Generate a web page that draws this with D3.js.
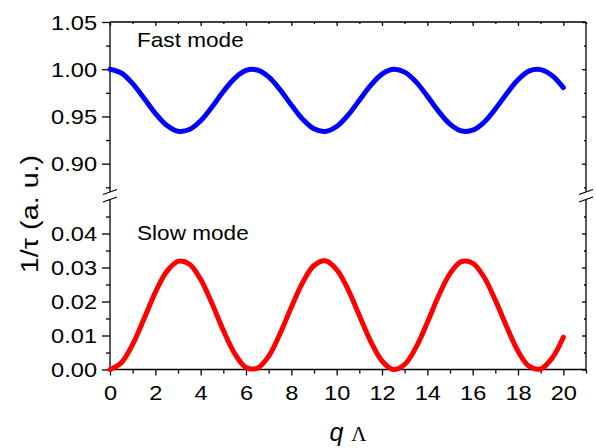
<!DOCTYPE html>
<html>
<head>
<meta charset="utf-8">
<script src="https://cdn.jsdelivr.net/npm/d3@7"></script>
<style>
  body { margin: 0; background: #fff; }
  svg { font-family: "Liberation Sans", Arial, sans-serif; }
  .axis path, .axis line { stroke: #000; stroke-width: 1.3; }
  .axis text { font-size: 20px; fill: #000; }
</style>
</head>
<body>
<div id="chart"></div>
<script>
// q*Lambda sample points
var qLambda = [0, 0.5, 1, 1.5, 2, 2.5, 3, 3.5, 4, 4.5, 5, 5.5, 6, 6.5, 7, 7.5, 8, 8.5, 9, 9.5,
  10, 10.5, 11, 11.5, 12, 12.5, 13, 13.5, 14, 14.5, 15, 15.5, 16, 16.5, 17, 17.5, 18, 18.5, 19, 19.5, 20];

// fast mode 1/tau
var fastMode = [1.0000, 0.9960, 0.9848, 0.9693, 0.9533, 0.9406, 0.9343, 0.9361, 0.9454, 0.9600,
  0.9764, 0.9904, 0.9987, 0.9992, 0.9919, 0.9784, 0.9622, 0.9471, 0.9369, 0.9341,
  0.9393, 0.9513, 0.9671, 0.9829, 0.9948, 0.9999, 0.9969, 0.9866, 0.9715, 0.9553,
  0.9419, 0.9347, 0.9354, 0.9438, 0.9579, 0.9741, 0.9888, 0.9982, 0.9996, 0.9933, 0.9805];

// slow mode 1/tau
var slowMode = [0.0000, 0.0020, 0.0074, 0.0149, 0.0227, 0.0288, 0.0318, 0.0310, 0.0265, 0.0194,
  0.0115, 0.0047, 0.0006, 0.0004, 0.0039, 0.0105, 0.0183, 0.0256, 0.0306, 0.0320,
  0.0294, 0.0236, 0.0159, 0.0083, 0.0025, 0.0000, 0.0015, 0.0065, 0.0138, 0.0217,
  0.0282, 0.0317, 0.0313, 0.0272, 0.0204, 0.0126, 0.0054, 0.0009, 0.0002, 0.0033, 0.0095];

var xMajor = [0, 2, 4, 6, 8, 10, 12, 14, 16, 18, 20];
var xMinor = [1, 3, 5, 7, 9, 11, 13, 15, 17, 19, 21];
var topMajor = [0.90, 0.95, 1.00, 1.05];
var topMinor = [0.875, 0.925, 0.975, 1.025];
var botMajor = [0.00, 0.01, 0.02, 0.03, 0.04];
var botMinor = [0.005, 0.015, 0.025, 0.035, 0.045];

var svgWidth = 596, svgHeight = 448;
var left = 110, right = 586;
var topY0 = 22, topY1 = 192;
var botY0 = 199.5, botY1 = 369.5;
var textStretch = 1.18;

var svg = d3.select("#chart").append("svg")
  .attr("width", svgWidth)
  .attr("height", svgHeight);

var x = d3.scaleLinear().domain([0, 21]).range([left, right]);
var yTop = d3.scaleLinear().domain([0.87, 1.05]).range([topY1, topY0]);
var yBot = d3.scaleLinear().domain([0, 0.05]).range([botY1, botY0]);

// stretch tick labels horizontally like the original
function stretchTicks(g, k) {
  g.selectAll("text").each(function() {
    var t = d3.select(this);
    var tx = +t.attr("x") || 0;
    t.attr("x", tx / k).attr("transform", `scale(${k},1)`);
  });
}

function drawAxis(axisFn, scale, major, minor, fmt, tr, labels, majorLen, minorLen) {
  var gMaj = svg.append("g").attr("class", "axis").attr("transform", tr)
    .call(axisFn(scale).tickValues(major).tickSize(majorLen).tickSizeOuter(0)
      .tickFormat(labels ? fmt : ""));
  gMaj.select(".domain").remove();
  var gMin = svg.append("g").attr("class", "axis").attr("transform", tr)
    .call(axisFn(scale).tickValues(minor).tickSize(minorLen).tickFormat(""));
  gMin.select(".domain").remove();
  return gMaj;
}

var f2 = d3.format(".2f");

// left axes (outward ticks)
var gl1 = drawAxis(d3.axisLeft, yTop, topMajor, topMinor, f2, `translate(${left},0)`, true, 8, 4);
gl1.selectAll("text").attr("x", -13).attr("dy", "0.36em");
stretchTicks(gl1, textStretch);
var gl2 = drawAxis(d3.axisLeft, yBot, botMajor, botMinor, f2, `translate(${left},0)`, true, 8, 4);
gl2.selectAll("text").attr("x", -13).attr("dy", "0.36em");
stretchTicks(gl2, textStretch);

// right axes (inward ticks, mirror)
drawAxis(d3.axisLeft, yTop, topMajor, topMinor, f2, `translate(${right},0)`, false, 4, 2);
drawAxis(d3.axisLeft, yBot, botMajor, botMinor, f2, `translate(${right},0)`, false, 4, 2);

// bottom axis
var gb = drawAxis(d3.axisBottom, x, xMajor, xMinor, d3.format("d"), `translate(0,${botY1})`, true, 6, 4);
gb.selectAll("text").attr("y", 16).attr("dy", "0.71em");
stretchTicks(gb, textStretch);

// top axis (inward ticks)
drawAxis(d3.axisBottom, x, xMajor, xMinor, d3.format("d"), `translate(0,${topY0})`, false, 4, 2);

// frame lines
var frame = [
  [left, topY0, right, topY0],
  [left, topY0, left, topY1],
  [right, topY0, right, topY1],
  [left, botY0, left, botY1],
  [right, botY0, right, botY1],
  [left, botY1, right, botY1]
];
svg.append("g").selectAll("line").data(frame).enter().append("line")
  .attr("x1", d => d[0]).attr("y1", d => d[1])
  .attr("x2", d => d[2]).attr("y2", d => d[3])
  .attr("stroke", "#000").attr("stroke-width", 1.3);

// axis break marks
[left, right].forEach(function(ax) {
  [topY1, botY0].forEach(function(yy) {
    svg.append("line")
      .attr("x1", ax - 7).attr("y1", yy + 2.5)
      .attr("x2", ax + 7).attr("y2", yy - 2.5)
      .attr("stroke", "#000").attr("stroke-width", 1.3);
  });
});

// curves
var fastLine = d3.line()
  .x((d, i) => x(qLambda[i]))
  .y(d => yTop(d))
  .curve(d3.curveCatmullRom);
var slowLine = d3.line()
  .x((d, i) => x(qLambda[i]))
  .y(d => yBot(d))
  .curve(d3.curveCatmullRom);

svg.append("path").datum(fastMode)
  .attr("d", fastLine)
  .attr("fill", "none").attr("stroke", "#0000ff")
  .attr("stroke-width", 5).attr("stroke-linecap", "round");
svg.append("path").datum(slowMode)
  .attr("d", slowLine)
  .attr("fill", "none").attr("stroke", "#ff0000")
  .attr("stroke-width", 5).attr("stroke-linecap", "round");

// panel labels
svg.append("text")
  .attr("transform", `translate(137,47) scale(1.13,1)`)
  .style("font-size", "20px")
  .text("Fast mode");
svg.append("text")
  .attr("transform", `translate(137,240) scale(1.13,1)`)
  .style("font-size", "20px")
  .text("Slow mode");

// y title
svg.append("text")
  .attr("transform", `translate(38,214) rotate(-90) scale(1.25,1)`)
  .attr("text-anchor", "middle")
  .style("font-size", "23px")
  .text("1/\u03c4 (a. u.)");

// x title
var xt = svg.append("text")
  .attr("transform", `translate(348,441)`)
  .attr("text-anchor", "middle");
xt.append("tspan")
  .style("font-style", "italic")
  .style("font-size", "25px")
  .text("q");
xt.append("tspan")
  .style("font-family", "'Liberation Serif', 'Times New Roman', serif")
  .style("font-size", "21px")
  .attr("dx", 8)
  .text("\u039b");
</script>
</body>
</html>
